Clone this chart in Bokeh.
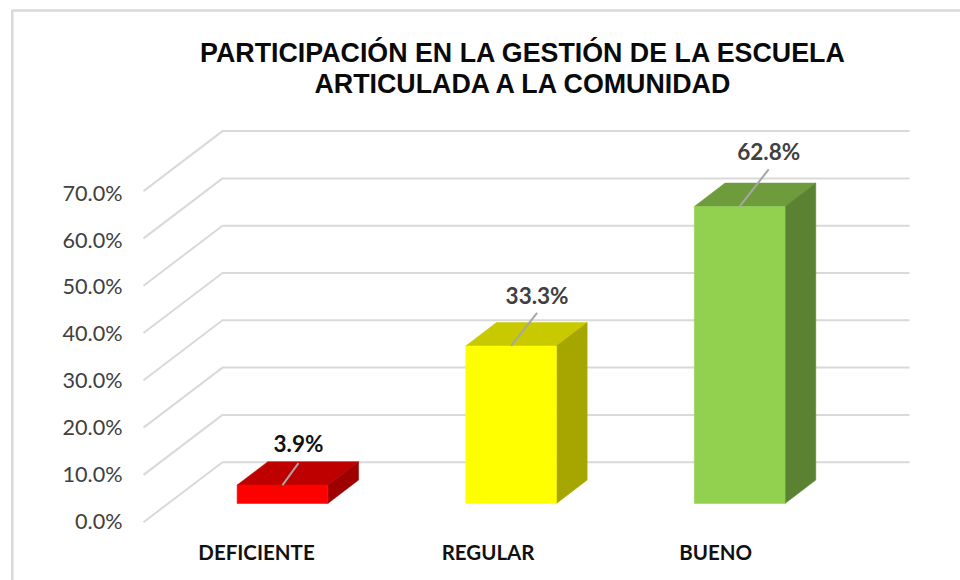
from bokeh.plotting import figure
from bokeh.models import Range1d, LinearAxis, FixedTicker
from bokeh.core.properties import value
from bokeh.embed import file_html
from bokeh.resources import INLINE

# ---- data ----
categories = ["DEFICIENTE", "REGULAR", "BUENO"]
values = [3.9, 33.3, 62.8]
value_labels = ["3.9%", "33.3%", "62.8%"]
y_ticks = [0, 10, 20, 30, 40, 50, 60, 70]
y_tick_labels = ["0.0%", "10.0%", "20.0%", "30.0%", "40.0%", "50.0%", "60.0%", "70.0%"]
title_lines = ["PARTICIPACIÓN EN LA GESTIÓN DE LA ESCUELA", "ARTICULADA A LA COMUNIDAD"]

# ---- styles ----
front_colors = ["#FF0000", "#FFFF00", "#92D050"]
top_colors = ["#BF0000", "#C9C900", "#6E9C3C"]
side_colors = ["#9E0000", "#A6A600", "#5B8232"]
label_colors = ["#111111", "#404040", "#404040"]
GRID = "#D9D9D9"
PX_X, PX_Y = 228.6, 4.73              # pixels per category / per percent

# ---- layout, in data units ----
X_MIN, X_MAX = -0.7336, 3.466
Y_MIN, Y_MAX = -12.33, 110.3
WALL_L, WALL_R = -0.108, 3.243
WALL_DX, WALL_DY = 79 / PX_X, 60 / PX_Y
BAR_W = 0.397
BAR_BASE = 18.7 / PX_Y
BAR_DX, BAR_DY = 30.7 / PX_X, 23.4 / PX_Y
LEAD_DX = [16 / PX_X, 26 / PX_X, 29 / PX_X]
LEAD_DY = [22 / PX_Y, 33 / PX_Y, 37 / PX_Y]
LABEL_OFFSET = [-20, -17, -18]
CAT_SHIFT = [-26 / PX_X, -23 / PX_X, -24 / PX_X]
FRAME_L, FRAME_T = -0.6820, 108.2

p = figure(width=960, height=580, output_backend="svg", toolbar_location=None,
           x_range=Range1d(X_MIN, X_MAX), y_range=Range1d(Y_MIN, Y_MAX),
           x_axis_type=None, y_axis_type=None,
           min_border=0, outline_line_color=None,
           background_fill_color="white", border_fill_color="white")
p.grid.visible = False
p.extra_y_ranges = {"labels": Range1d(-12.81, 111.04)}

# value axis
ya = LinearAxis(y_range_name="labels", ticker=FixedTicker(ticks=y_ticks),
                fixed_location=-0.1125,
                major_label_overrides=dict(zip(y_ticks, y_tick_labels)),
                axis_line_color=None, major_tick_line_color=None, minor_tick_line_color=None,
                major_tick_out=0, major_tick_in=0, major_label_standoff=20,
                major_label_text_font="Lato", major_label_text_font_size="21.6px",
                major_label_text_color="#404040")
p.add_layout(ya, "left")

# category axis
cat_pos = [i + 0.5 + CAT_SHIFT[i] for i in range(len(categories))]
xa = LinearAxis(ticker=FixedTicker(ticks=cat_pos),
                fixed_location=-1.755,
                major_label_overrides=dict(zip(cat_pos, categories)),
                axis_line_color=None, major_tick_line_color=None, minor_tick_line_color=None,
                major_tick_out=0, major_tick_in=0, major_label_standoff=10,
                major_label_text_font="Lato", major_label_text_font_size="20.5px",
                major_label_text_font_style="bold", major_label_text_color="#111111")
p.add_layout(xa, "below")

# chart frame: left and top edges only
p.line([FRAME_L, FRAME_L, X_MAX], [Y_MIN, FRAME_T, FRAME_T], line_color=GRID, line_width=2.5)

# walls: one bent gridline per tick
p.multi_line(xs=[[WALL_L, WALL_L + WALL_DX, WALL_R] for _ in y_ticks],
             ys=[[t, t + WALL_DY, t + WALL_DY] for t in y_ticks],
             line_color=GRID, line_width=2)

# 3-D bars
for i, v in enumerate(values):
    l = i + 0.5 - BAR_W / 2
    r = i + 0.5 + BAR_W / 2
    b = BAR_BASE
    t = BAR_BASE + v
    p.patch([l, r, r + BAR_DX, l + BAR_DX], [t, t, t + BAR_DY, t + BAR_DY],
            fill_color=top_colors[i], line_color=top_colors[i], line_width=0.5)
    p.patch([r, r + BAR_DX, r + BAR_DX, r], [b, b + BAR_DY, t + BAR_DY, t],
            fill_color=side_colors[i], line_color=side_colors[i], line_width=0.5)
    p.patch([l, r, r, l], [b, b, t, t],
            fill_color=front_colors[i], line_color=front_colors[i], line_width=0.5)
    # leader line and value label
    lx = i + 0.5 + LEAD_DX[i]
    ly = t + LEAD_DY[i]
    p.line([i + 0.5, lx], [t, ly], line_color="#A6A6A6", line_width=2)
    p.text([lx], [ly], text=[value_labels[i]], text_align="center", text_baseline="middle",
           y_offset=LABEL_OFFSET[i], text_font=value("Lato"), text_font_style="bold",
           text_font_size="22.5px", text_color=label_colors[i])

# title
p.text([1.554, 1.558], [99.1, 92.6], text=title_lines, text_align="center", text_baseline="middle",
       text_font=value("Liberation Sans"), text_font_style="bold", text_font_size="26.8px",
       text_color="#0A0A0A")

open("out.html", "w").write(file_html(p, INLINE))
